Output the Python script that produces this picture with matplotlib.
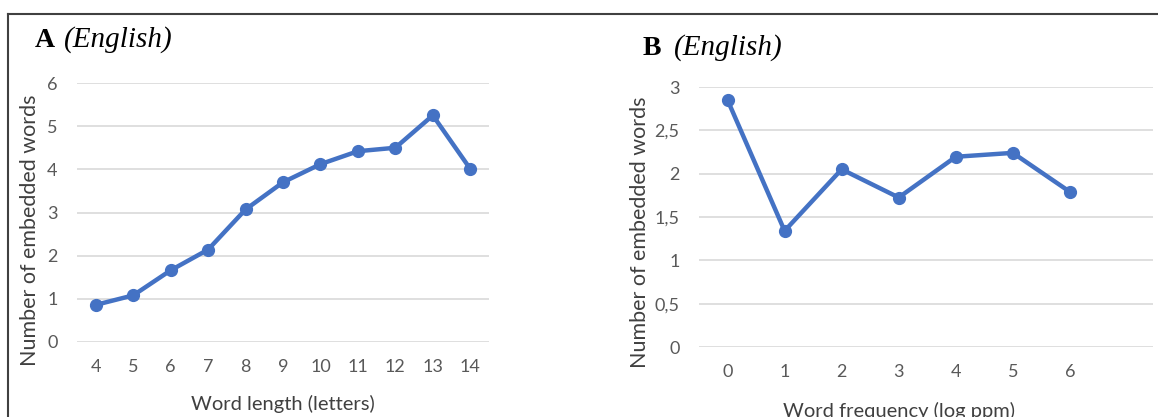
import matplotlib
matplotlib.use("Agg")
import matplotlib.pyplot as plt
from matplotlib.lines import Line2D

# Data
word_length = [4, 5, 6, 7, 8, 9, 10, 11, 12, 13, 14]
embedded_by_length = [0.86, 1.08, 1.66, 2.14, 3.07, 3.70, 4.12, 4.42, 4.50, 5.25, 4.01]

log_freq = [0, 1, 2, 3, 4, 5, 6]
embedded_by_freq = [2.85, 1.34, 2.05, 1.725, 2.195, 2.24, 1.79]

a_yticks = [0, 1, 2, 3, 4, 5, 6]
b_yticks = [0, 0.5, 1, 1.5, 2, 2.5, 3]
b_ytick_labels = ["0", "0,5", "1", "1,5", "2", "2,5", "3"]

blue = "#4472C4"
grid_col = "#D9D9D9"
tick_col = "#595959"
sans = ["Lato", "DejaVu Sans"]

W, H = 1158, 417
fig = plt.figure(figsize=(W / 100, H / 100), dpi=100)


def px_axes(x0, x1, ytop, ybot):
    return fig.add_axes([x0 / W, 1 - ybot / H, (x1 - x0) / W, (ybot - ytop) / H])


def style(ax):
    for s in ax.spines.values():
        s.set_visible(False)
    ax.tick_params(length=0, colors=tick_col, labelsize=13)
    for lab in ax.get_xticklabels() + ax.get_yticklabels():
        lab.set_family(sans)
    ax.yaxis.grid(True, color=grid_col, lw=1.2)
    ax.set_axisbelow(True)


# Panel A
axA = px_axes(77, 489, 83, 342)
axA.plot(range(len(word_length)), embedded_by_length, color=blue, lw=3.2,
         marker="o", ms=8.5, solid_capstyle="round")
axA.set_xlim(-0.5, len(word_length) - 0.5)
axA.set_ylim(0, 6)
axA.set_yticks(a_yticks)
axA.set_xticks(range(len(word_length)))
axA.set_xticklabels([str(v) for v in word_length])
style(axA)
axA.tick_params(axis="y", pad=14)
axA.tick_params(axis="x", pad=12)

# Panel B
axB = px_axes(699, 1153, 87, 347)
axB.plot(log_freq, embedded_by_freq, color=blue, lw=3.2,
         marker="o", ms=8.5, solid_capstyle="round")
axB.set_xlim(-0.5, (1153 - 728) / 57.0)
axB.set_ylim(0, 3)
axB.set_yticks(b_yticks)
axB.set_yticklabels(b_ytick_labels)
axB.set_xticks(log_freq)
style(axB)
axB.tick_params(axis="y", pad=14)
axB.tick_params(axis="x", pad=12)

# Axis titles
fig.text(283 / W, 1 - 404 / H, "Word length (letters)", ha="center", va="center",
         fontsize=14.5, color="#404040", family=sans)
fig.text(30 / W, 1 - 230 / H, "Number of embedded words", ha="center", va="center",
         rotation=90, fontsize=15.5, color="#404040", family=sans)
fig.text(899 / W, 1 - 411 / H, "Word frequency (log ppm)", ha="center", va="center",
         fontsize=14.5, color="#404040", family=sans)
fig.text(640 / W, 1 - 232 / H, "Number of embedded words", ha="center", va="center",
         rotation=90, fontsize=15.5, color="#404040", family=sans)

# Panel letters
serif = ["Liberation Serif", "DejaVu Serif"]
fig.text(35 / W, 1 - 47 / H, "A", fontsize=20, fontweight="bold", family=serif)
fig.text(64 / W, 1 - 47 / H, "(English)", fontsize=21, style="italic", family=serif)
fig.text(643 / W, 1 - 55 / H, "B", fontsize=20, fontweight="bold", family=serif)
fig.text(674 / W, 1 - 55 / H, "(English)", fontsize=21, style="italic", family=serif)

# Frame lines
fig.add_artist(Line2D([8 / W, 1], [1 - 14 / H, 1 - 14 / H], color="#404040", lw=1.5))
fig.add_artist(Line2D([8 / W, 8 / W], [1 - 14 / H, 0], color="#404040", lw=1.5))

fig.savefig("out.png", dpi=100, facecolor="white")
